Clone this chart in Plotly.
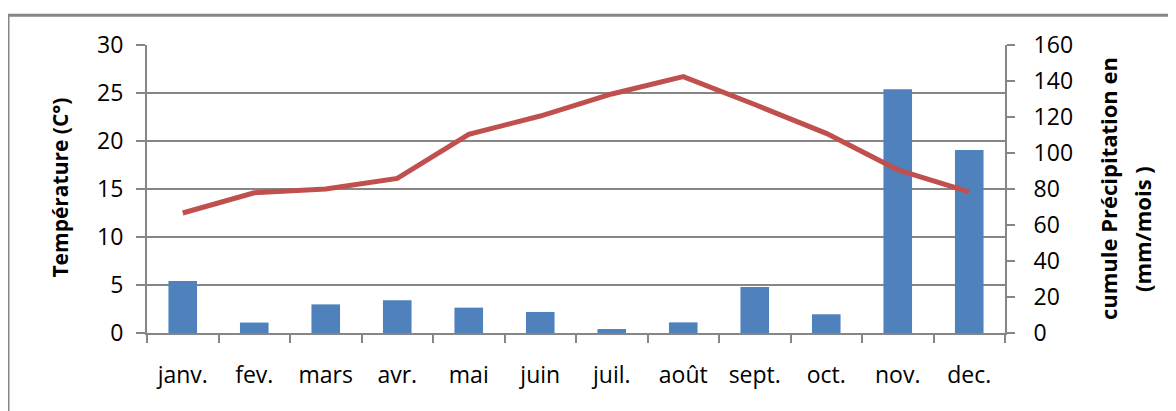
import plotly.graph_objects as go

mois = ['janv.', 'fev.', 'mars', 'avr.', 'mai', 'juin', 'juil.', 'août', 'sept.', 'oct.', 'nov.', 'dec.']
precipitation = [28.9, 5.8, 15.9, 18.2, 14.1, 11.7, 2.2, 5.9, 25.6, 10.4, 135.4, 101.7]
temperature = [12.5, 14.6, 15.0, 16.1, 20.7, 22.6, 24.9, 26.7, 23.8, 20.8, 17.0, 14.7]

GRID = '#868686'
FONT = 'Open Sans'

fig = go.Figure()
fig.add_trace(go.Bar(x=mois, y=precipitation, marker_color='#4F81BD',
                     marker_line_width=0, width=0.4, yaxis='y'))
fig.add_trace(go.Scatter(x=mois, y=temperature, mode='lines',
                         line=dict(color='#C0504D', width=5), yaxis='y2'))

# page body has an 8px margin, so the figure is 8px smaller and shifted
fig.update_layout(
    width=1168, height=403,
    margin=dict(l=139, r=171, t=37, b=78, autoexpand=False),
    paper_bgcolor='white', plot_bgcolor='white',
    showlegend=False,
    font=dict(family=FONT, size=23, color='black'),
    bargap=0.6,
    xaxis=dict(showline=True, linecolor=GRID, linewidth=2,
               ticks='outside', tickson='boundaries', ticklen=8, tickcolor=GRID, tickwidth=2,
               ticklabelstandoff=20, showgrid=False),
    # precipitation axis on the right (primary so bars sit under the line)
    yaxis=dict(side='right', range=[0, 160], dtick=20, showgrid=False, zeroline=False,
               showline=True, linecolor=GRID, linewidth=2,
               ticks='outside', ticklen=8, tickcolor=GRID, tickwidth=2,
               ticklabelstandoff=14),
    # temperature axis on the left
    yaxis2=dict(side='left', overlaying='y', range=[0, 30], dtick=5,
                showgrid=True, gridcolor=GRID, gridwidth=2, zeroline=False,
                showline=True, linecolor=GRID, linewidth=2,
                ticks='outside', ticklen=9, tickcolor=GRID, tickwidth=2,
                ticklabelstandoff=8),
    annotations=[
        dict(text='<b>Température (C°)</b>', textangle=-90, xref='paper', yref='paper',
             x=-0.1014, y=0.505, xanchor='center', yanchor='middle',
             showarrow=False, font=dict(size=21)),
        dict(text='<b>cumule Précipitation en</b>', textangle=-90,
             xref='paper', yref='paper', x=1.12, y=0.503, xanchor='center', yanchor='middle',
             showarrow=False, font=dict(size=22)),
        dict(text='<b>(mm/mois )</b>', textangle=-90,
             xref='paper', yref='paper', x=1.1597, y=0.361, xanchor='center', yanchor='middle',
             showarrow=False, font=dict(size=22)),
    ],
    shapes=[dict(type='rect', xref='paper', yref='paper',
                 x0=-0.162, x1=1.2, y0=-0.5, y1=1.103,
                 line=dict(color=GRID, width=3), layer='below')],
)

fig.write_html('out.html')
